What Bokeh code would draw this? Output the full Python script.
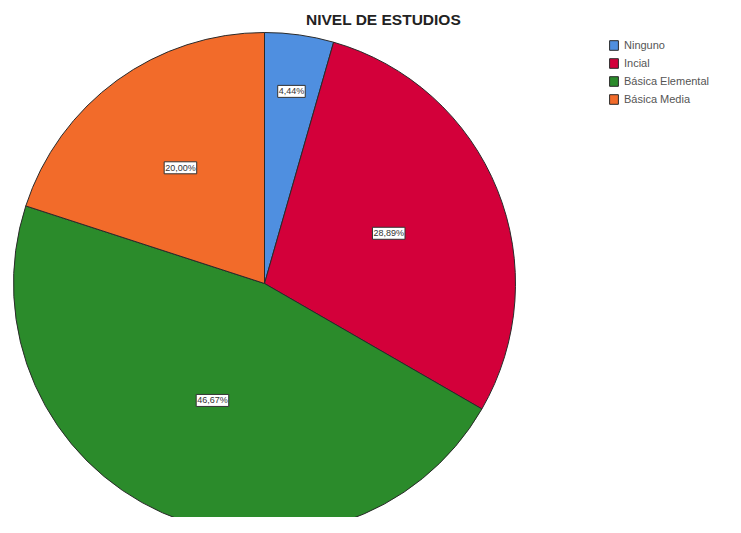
import math
from bokeh.plotting import figure
from bokeh.models import ColumnDataSource, Range1d, Legend, LegendItem, Label
from bokeh.core.properties import value
from bokeh.embed import file_html
from bokeh.resources import INLINE

# ---- data ----
title = "NIVEL DE ESTUDIOS"
categories = ["Ninguno", "Incial", "Básica Elemental", "Básica Media"]
percents = [4.44, 28.89, 46.67, 20.00]
pct_labels = ["4,44%", "28,89%", "46,67%", "20,00%"]

# ---- style ----
colors = ["#4F8FE0", "#D3003A", "#2B8B2B", "#F26B2A"]
label_r = [194, 134, 128, 143]  # radial label distances (px)

W, H = 725, 517
cx, cy, R = 264, 234, 251

total = sum(percents)
starts, ends, lx, ly = [], [], [], []
cum = 0.0
for pct, lr in zip(percents, label_r):
    a0 = cum / total * 2 * math.pi
    cum += pct
    a1 = cum / total * 2 * math.pi
    starts.append(math.pi / 2 - a0)
    ends.append(math.pi / 2 - a1)
    mid = (a0 + a1) / 2
    lx.append(cx + lr * math.sin(mid))
    ly.append(cy + lr * math.cos(mid))

src = ColumnDataSource(dict(cat=categories, start=starts, end=ends, color=colors,
                            lx=lx, ly=ly, lab=pct_labels))

p = figure(width=W, height=H, output_backend="svg", toolbar_location=None,
           x_range=Range1d(0, W), y_range=Range1d(0, H), min_border=0,
           background_fill_color="white", border_fill_color="white")
p.axis.visible = False
p.grid.visible = False
p.outline_line_color = None

r = p.wedge(x=cx, y=cy, radius=R, start_angle="start", end_angle="end",
            direction="clock", fill_color="color", line_color="#2a2a2a",
            line_width=1, source=src)

p.text(x="lx", y="ly", text="lab", source=src, text_align="center",
       text_baseline="middle", text_font=value("Liberation Sans"),
       text_font_size="9px", text_color="#333333",
       background_fill_color="white", border_line_color="#333333",
       border_line_width=1, padding=1)

p.add_layout(Label(x=383, y=498, text=title, text_align="center",
                   text_baseline="middle", text_font="Liberation Sans",
                   text_font_size="15.5px", text_font_style="bold",
                   text_color="#222222"))

items = [LegendItem(label=c, renderers=[r], index=i) for i, c in enumerate(categories)]
legend = Legend(items=items, location=(608, 412), orientation="vertical",
                glyph_width=11, glyph_height=12, label_height=12,
                label_standoff=5, spacing=6, padding=0, margin=0,
                border_line_color=None, background_fill_alpha=0,
                label_text_font="Liberation Sans", label_text_font_size="11px",
                label_text_color="#555555")
p.add_layout(legend)

open("out.html", "w").write(file_html(p, INLINE))
